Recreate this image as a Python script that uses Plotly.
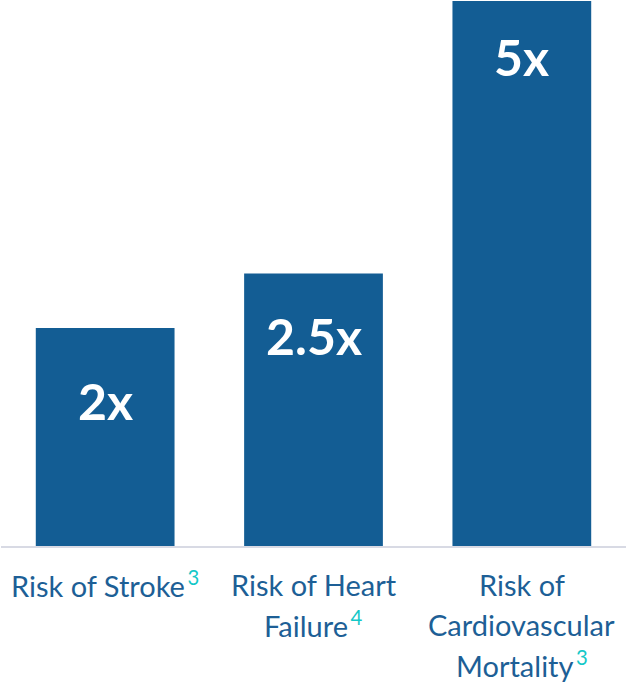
import plotly.graph_objects as go

# Relative risk multipliers
categories = ["Risk of Stroke", "Risk of Heart<br>Failure", "Risk of<br>Cardiovascular<br>Mortality"]
footnotes = ["3", "4", "3"]
risk_values = [2, 2.5, 5]
value_labels = ["2x", "2.5x", "5x"]

BAR_COLOR = "#135D94"
TEXT_COLOR = "#1D5F96"
NOTE_COLOR = "#14C8C8"
AXIS_COLOR = "#D8DAE4"
FONT = "Lato"

# vertical placement of the value labels inside each bar (px below bar top)
label_drop = [73, 62, 56]

fig = go.Figure(
    go.Bar(
        x=list(range(len(categories))),
        y=risk_values,
        marker=dict(color=BAR_COLOR, line=dict(width=0)),
        hoverinfo="skip",
    )
)

annotations = []
for i, (val, lab) in enumerate(zip(risk_values, value_labels)):
    annotations.append(dict(
        x=i, y=val, xref="x", yref="y",
        text=f"<b>{lab}</b>", showarrow=False,
        yanchor="middle", yshift=-label_drop[i],
        font=dict(family=FONT, size=50, color="white"),
    ))

for i, (cat, note) in enumerate(zip(categories, footnotes)):
    lines = cat.split("<br>")
    for j, line in enumerate(lines):
        txt = line
        if j == len(lines) - 1:
            txt += f"<sup><span style='color:{NOTE_COLOR}'>&#8201;{note}</span></sup>"
        annotations.append(dict(
            x=i, y=0, xref="x", yref="paper",
            text=txt, showarrow=False,
            yanchor="middle", yshift=-38 - 40 * j,
            font=dict(family=FONT, size=29, color=TEXT_COLOR),
        ))

fig.update_layout(
    width=626, height=682,
    margin=dict(l=1, r=0, t=0, b=136),
    paper_bgcolor="white", plot_bgcolor="white",
    bargap=0.334,
    showlegend=False,
    annotations=annotations,
    xaxis=dict(
        range=[-0.5, 2.5], showticklabels=False, showgrid=False, zeroline=False,
        showline=True, linecolor=AXIS_COLOR, linewidth=2, ticks="",
    ),
    yaxis=dict(
        range=[0, 5.01], visible=False, showgrid=False, zeroline=False,
    ),
)

fig.write_html("out.html")
